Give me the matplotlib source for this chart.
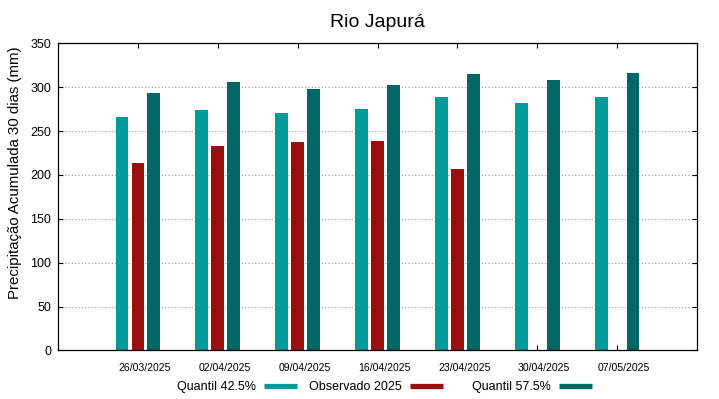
import numpy as np
import matplotlib
matplotlib.use("Agg")
import matplotlib.pyplot as plt
from matplotlib.lines import Line2D
from matplotlib.transforms import ScaledTranslation

plt.rcParams['font.family'] = ['Liberation Sans', 'DejaVu Sans']

# dados
datas = ["26/03/2025", "02/04/2025", "09/04/2025", "16/04/2025",
         "23/04/2025", "30/04/2025", "07/05/2025"]
q425 = [266, 274.5, 270, 275, 289, 282.5, 289]
obs2025 = [213.5, 233.5, 237, 239, 207]          # so ate 23/04
q575 = [293.5, 305.5, 298, 303, 314.5, 308, 316]

series = ["Quantil 42.5%", "Observado 2025", "Quantil 57.5%"]
cor_q425 = "#009a9a"
cor_obs = "#990e0e"
cor_q575 = "#006767"

fig = plt.figure(figsize=(7.19, 3.99), dpi=100)
ax = fig.add_axes([0.0807, 0.1216, 0.8887, 0.7700])

x = np.arange(len(datas))
larg = 0.16
desl = 0.2

ax.bar(x - desl, q425, width=larg, color=cor_q425, zorder=2)
ax.bar(x[:len(obs2025)], obs2025, width=larg, color=cor_obs, zorder=2)
ax.bar(x + desl, q575, width=larg, color=cor_q575, zorder=2)

ax.set_xlim(-1, len(datas))
ax.set_ylim(0, 350)
ax.set_yticks(np.arange(0, 351, 50))
ax.set_xticks(x)
ax.set_xticklabels(datas)

ax.tick_params(axis='both', direction='in', length=3.6, width=0.8,
               top=True, right=True, labelsize=9, pad=5)
ax.tick_params(axis='x', labelsize=7.6, pad=9)

# rotulos das datas ficam um pouco a direita do centro do grupo
for lbl in ax.get_xticklabels():
    lbl.set_transform(lbl.get_transform() + ScaledTranslation(7 / 100, 0, fig.dpi_scale_trans))

ax.yaxis.grid(True, linestyle=(0, (1, 2)), color='#999999', linewidth=0.8)
ax.set_axisbelow(True)
for s in ax.spines.values():
    s.set_linewidth(0.9)

ax.set_title("Rio Japurá", fontsize=14, pad=11.5)
ax.set_ylabel("Precipitação Acumulada 30 dias (mm)", fontsize=10.8)
ax.yaxis.set_label_coords(-0.0563, 0.58)

# legenda estilo gnuplot: texto seguido da amostra, colunas de largura fixa
pos_leg = [0.2462, 0.4298, 0.6565]
for nome, cor, px in zip(series, (cor_q425, cor_obs, cor_q575), pos_leg):
    h = Line2D([], [], color=cor, lw=3.8, solid_capstyle='butt')
    fig.legend([h], [nome], loc='center left', bbox_to_anchor=(px, 0.030),
               frameon=False, markerfirst=False, fontsize=9,
               borderpad=0, borderaxespad=0,
               handlelength=2.64, handletextpad=0.64)

fig.savefig("out.png", dpi=100)
